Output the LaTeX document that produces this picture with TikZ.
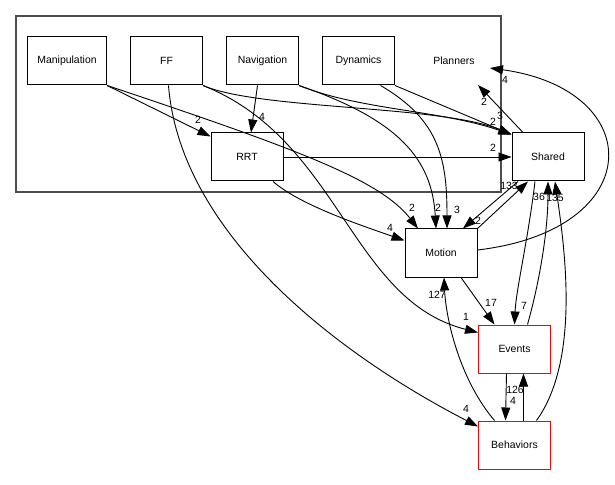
\documentclass[tikz,border=0pt]{standalone}
\usepackage{fontspec}
\setmainfont{Liberation Sans}
\usetikzlibrary{positioning, calc, arrows.meta}

\begin{document}
\begin{tikzpicture}[x=1bp, y=-1bp,
    font=\fontsize{10.5}{12}\selectfont,
    box/.style={draw=black, line width=1bp, minimum width=72bp, minimum height=48bp, inner xsep=10bp},
    hot/.style={box, draw=red},
    edge/.style={-{Triangle[length=13bp, width=9bp]}, line width=0.9bp},
    lbl/.style={inner sep=0pt}]
            \useasboundingbox (0,0) rectangle (615,485);

            % cluster Planners
            \draw[black!70, line width=1.4bp] (16,16) rectangle (501,192);
            \node[lbl] (Planners) at (454,61) {Planners};

            \node[box] (Man) at (67,61) {Manipulation};
            \node[box] (FF) at (166.5,61) {FF};
            \node[box] (Nav) at (262.5,61) {Navigation};
            \node[box] (Dyn) at (358.5,61) {Dynamics};
            \node[box] (RRT) at (247,157) {RRT};
            \node[box] (Shared) at (548,157) {Shared};
            \node[box] (Motion) at (441,253) {Motion};
            \node[hot] (Events) at (514.5,349) {Events};
            \node[hot] (Behaviors) at (514.5,445) {Behaviors};

            \coordinate (tipA) at (478,85);
            \coordinate (tipB) at (490,68);

            % planners
            \draw[edge] (Man.south east) -- ([yshift=-4bp]RRT.north west);
            \draw[edge] (Man.south east) .. controls (300,150) and (380,180) .. ([xshift=-23bp]Motion.north);
            \draw[edge] (FF.south east) .. controls (260,110) and (440,105) .. ([yshift=-2bp]Shared.north west);
            \draw[edge] (FF.south east) .. controls (340,140) and (350,300) .. ([yshift=-8bp]Events.north west);
            \draw[edge] ([xshift=2bp]FF.south) .. controls (180,230) and (330,350) .. ([yshift=-6bp]Behaviors.north west);
            \draw[edge] ([xshift=-5bp]Nav.south) -- ([xshift=4bp]RRT.north);
            \draw[edge] (Nav.south east) .. controls (360,110) and (440,110) .. ([yshift=-2bp]Shared.north west);
            \draw[edge] (Nav.south east) .. controls (400,120) and (432,160) .. ([xshift=-5bp]Motion.north);
            \draw[edge] (Dyn.south east) -- ([yshift=-2bp]Shared.north west);
            \draw[edge] ([xshift=22bp]Dyn.south) .. controls (440,120) and (447,160) .. ([xshift=6bp]Motion.north);
            \draw[edge] (RRT.east) -- (Shared.west);
            \draw[edge] ([xshift=26bp]RRT.south) .. controls (300,205) and (360,225) .. ([yshift=-12bp]Motion.north west);

            % shared and motion
            \draw[edge] ([xshift=-30bp]Shared.south) -- ([xshift=22bp]Motion.north);
            \draw[edge] (Motion.north east) -- ([xshift=-20bp]Shared.south);
            \draw[edge] ([xshift=-25bp]Shared.north) -- (tipA);
            \draw[edge] ([yshift=3bp]Motion.east) .. controls (648,230) and (648,90) .. (tipB);
            \draw[edge] ([xshift=20bp]Motion.south) -- ([xshift=-20bp]Events.north);
            \draw[edge] ([xshift=-20bp]Behaviors.north) .. controls (460,380) and (446,320) .. ([xshift=3bp]Motion.south);
            \draw[edge] ([xshift=-13bp]Shared.south) .. controls (528,240) and (516,290) .. (Events.north);
            \draw[edge] ([xshift=13bp]Events.north) .. controls (540,280) and (548,230) .. (Shared.south);
            \draw[edge] ([xshift=22bp]Behaviors.north) .. controls (580,360) and (565,250) .. ([xshift=7bp]Shared.south);
            \draw[edge] ([xshift=-8bp]Events.south) -- ([xshift=-9bp]Behaviors.north);
            \draw[edge] ([xshift=9bp]Behaviors.north) -- ([xshift=9bp]Events.south);

            % counts
            \node[lbl] (l1) at (198,120) {2};
            \node[lbl] (l2) at (412,208) {2};
            \node[lbl] (l3) at (493,122) {2};
            \node[lbl] (l4) at (500,116) {3};
            \node[lbl] (l5) at (466,317) {1};
            \node[lbl] (l6) at (466,409) {4};
            \node[lbl] (l7) at (262,117) {4};
            \node[lbl] (l8) at (438,208) {2};
            \node[lbl] (l9) at (457,210) {3};
            \node[lbl] (l10) at (493,148) {2};
            \node[lbl] (l11) at (390,228) {4};
            \node[lbl] (l12) at (478,221) {2};
            \node[lbl] (l13) at (509,186) {133};
            \node[lbl] (l14) at (484,102) {2};
            \node[lbl] (l15) at (505,80) {4};
            \node[lbl] (l16) at (491,303) {17};
            \node[lbl] (l17) at (437,295) {127};
            \node[lbl] (l18) at (524,306) {7};
            \node[lbl] (l19) at (539,197) {36};
            \node[lbl] (l20) at (555,198) {135};
            \node[lbl] (l21) at (513,401) {4};
            \node[lbl] (l22) at (515,390) {126};
\end{tikzpicture}
\end{document}
